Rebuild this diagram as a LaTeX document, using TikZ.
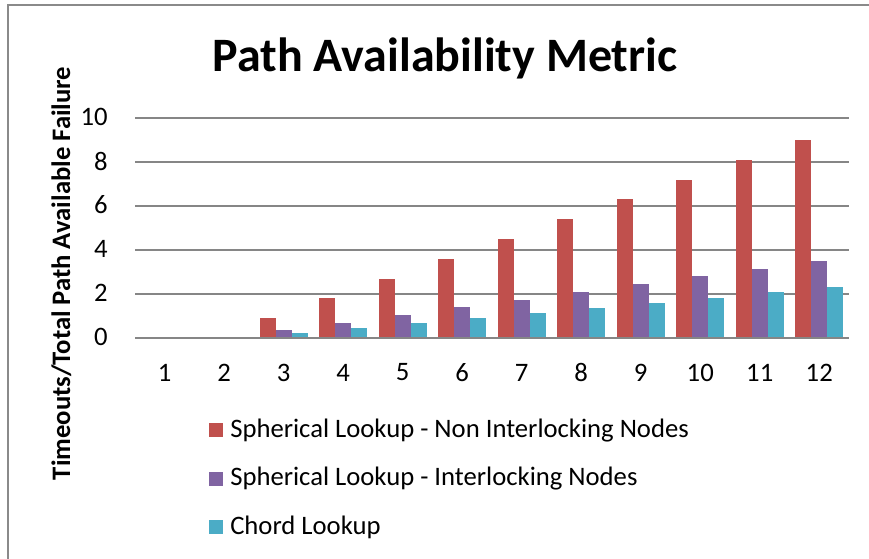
\documentclass[tikz,border=0pt]{standalone}
\usepackage{fontspec}
\setmainfont{Carlito}
\definecolor{cred}{HTML}{C0504D}
\definecolor{cpur}{HTML}{8064A2}
\definecolor{ccya}{HTML}{4BACC6}
\definecolor{cgrid}{HTML}{868686}
\definecolor{cframe}{HTML}{8A8A8A}
\begin{document}
\begin{tikzpicture}[x=0.75pt,y=-0.75pt,
  frame/.style={draw=cframe,line width=1.5pt},
  gridline/.style={draw=cgrid,line width=1.5pt},
  ticklab/.style={inner sep=0pt,font=\fontsize{20}{24}\selectfont,text=black},
  legtext/.style={inner sep=0pt,font=\fontsize{20}{24}\selectfont,text=black,anchor=base west},
  titletext/.style={inner sep=0pt,font=\fontsize{36}{43}\selectfont\bfseries,anchor=base},
  axislab/.style={inner sep=0pt,font=\fontsize{20}{24}\selectfont\bfseries,rotate=90,anchor=base}]
\useasboundingbox (0,0) rectangle (869,558);
\fill[white] (0,0) rectangle (869,558);
\draw[frame] (8,575) -- (8,5) -- (890,5);
\node[titletext] (title) at (445,71.5) {Path Availability Metric};
\node[axislab] (ylab) at (70,273.5) {Timeouts/Total Path Available Failure};
\foreach \i in {0,...,5} {
  \pgfmathtruncatemacro\v{2*\i}
  \pgfmathsetmacro\yy{338-44*\i}
  \draw[gridline] (135,\yy) -- (849,\yy);
  \node[ticklab,anchor=east] (yt\i) at (108,\yy-1) {\v};
}
\foreach \k in {1,...,12} {
  \pgfmathsetmacro\cx{135+(\k-0.5)*59.5}
  \node[ticklab] (xt\k) at (\cx,372.5) {\k};
}
\foreach \k in {3,...,12} {
  \pgfmathsetmacro\cx{135+(\k-0.5)*59.5}
  \pgfmathsetmacro\hr{338-0.9*(\k-2)*22}
  \pgfmathsetmacro\hp{338-0.35*(\k-2)*22}
  \pgfmathsetmacro\hc{338-0.23*(\k-2)*22}
  \fill[cred] ({\cx-23.8},337) rectangle ({\cx-7.93},\hr);
  \fill[cpur] ({\cx-7.93},337) rectangle ({\cx+7.93},\hp);
  \fill[ccya] ({\cx+7.93},337) rectangle ({\cx+23.8},\hc);
}
\fill[cred] (208.5,423) rectangle (222.5,437);
\node[legtext] (l1) at (230,437) {Spherical Lookup - Non Interlocking Nodes};
\fill[cpur] (208.5,471.5) rectangle (222.5,485.5);
\node[legtext] (l2) at (230,485.5) {Spherical Lookup - Interlocking Nodes};
\fill[ccya] (208.5,520) rectangle (222.5,534);
\node[legtext] (l3) at (230,534) {Chord Lookup};
\end{tikzpicture}
\end{document}
